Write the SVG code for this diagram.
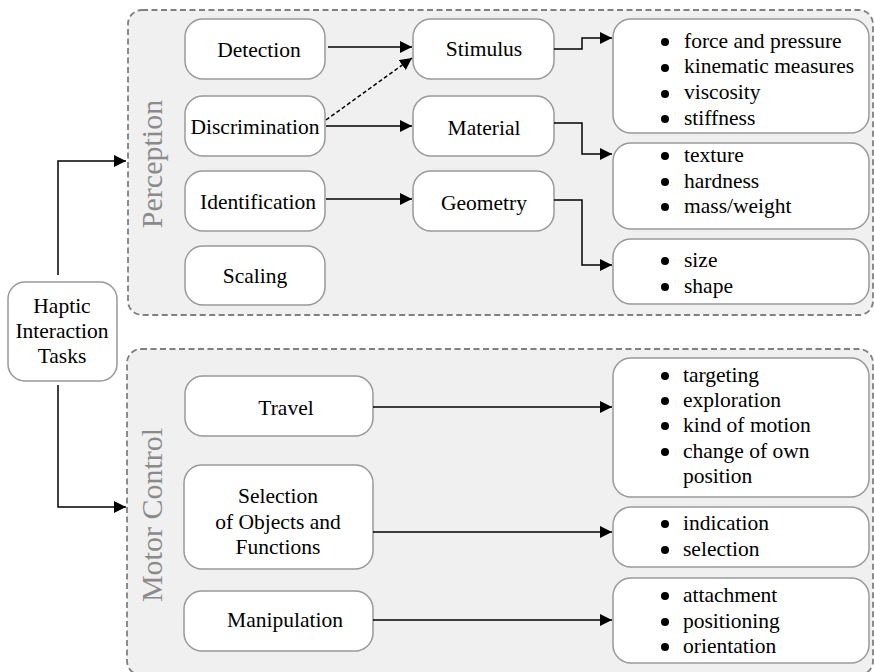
<svg xmlns="http://www.w3.org/2000/svg" width="874" height="672" viewBox="0 0 874 672" font-family="'Liberation Serif', 'Times New Roman', serif" font-size="21.5">
<defs>
<marker id="ah" markerWidth="12" markerHeight="12" refX="12" refY="6" orient="auto" markerUnits="userSpaceOnUse"><path d="M0,0 L12,6 L0,12 Z" fill="#000"/></marker>
<style>
.grp{fill:#f0f0f0;stroke:#808080;stroke-width:1.8;stroke-dasharray:6 3.5}
.nd{fill:#fff;stroke:#999;stroke-width:1.5}
.t{font-family:'Liberation Serif','Times New Roman',serif;font-size:21.5px;fill:#000}
.c{text-anchor:middle}
.lbl{font-family:'Liberation Serif','Times New Roman',serif;font-size:30px;fill:#8a8a8a;text-anchor:middle}
.ln{fill:none;stroke:#000;stroke-width:1.5}
.dash{stroke-dasharray:4 2.5}
</style>
</defs>
<rect x="0" y="0" width="874" height="672" fill="#fff"/>
<g id="perception-group">
<rect class="grp" x="128" y="10" width="745" height="305" rx="14"/>
<text class="lbl" transform="translate(162,164) rotate(-90)">Perception</text>
</g>
<g id="motor-group">
<rect class="grp" x="127" y="349" width="746" height="326" rx="14"/>
<text class="lbl" transform="translate(162,515) rotate(-90)">Motor Control</text>
</g>
<g id="haptic"><rect class="nd" x="8" y="282" width="109" height="99" rx="17"/>
<text class="t c" x="62" y="313">Haptic</text><text class="t c" x="62" y="338">Interaction</text><text class="t c" x="62" y="363">Tasks</text></g>
<g id="detection"><rect class="nd" x="185" y="19" width="140" height="60" rx="18"/><text class="t c" x="259" y="57">Detection</text></g>
<g id="discrimination"><rect class="nd" x="185" y="96" width="140" height="60" rx="18"/><text class="t c" x="255" y="134">Discrimination</text></g>
<g id="identification"><rect class="nd" x="185" y="171" width="140" height="60" rx="18"/><text class="t c" x="258" y="209">Identification</text></g>
<g id="scaling"><rect class="nd" x="185" y="246" width="140" height="59" rx="18"/><text class="t c" x="255" y="283">Scaling</text></g>
<g id="stimulus"><rect class="nd" x="413" y="19" width="141" height="60" rx="18"/><text class="t c" x="484" y="56">Stimulus</text></g>
<g id="material"><rect class="nd" x="413" y="96" width="141" height="60" rx="18"/><text class="t c" x="484" y="135">Material</text></g>
<g id="geometry"><rect class="nd" x="413" y="171" width="141" height="60" rx="18"/><text class="t c" x="484" y="210">Geometry</text></g>
<g id="stimulus-list"><rect class="nd" x="613" y="19" width="256" height="114" rx="18"/>
<circle cx="665" cy="42" r="4"/><circle cx="665" cy="68" r="4"/><circle cx="665" cy="94" r="4"/><circle cx="665" cy="119" r="4"/>
<text class="t" x="684" y="48">force and pressure</text><text class="t" x="684" y="73">kinematic measures</text><text class="t" x="684" y="99">viscosity</text><text class="t" x="684" y="125">stiffness</text></g>
<g id="material-list"><rect class="nd" x="613" y="143" width="256" height="86" rx="18"/>
<circle cx="665" cy="156" r="4"/><circle cx="665" cy="182" r="4"/><circle cx="665" cy="207" r="4"/>
<text class="t" x="684" y="162">texture</text><text class="t" x="684" y="188">hardness</text><text class="t" x="684" y="213">mass/weight</text></g>
<g id="geometry-list"><rect class="nd" x="613" y="239" width="256" height="65" rx="18"/>
<circle cx="665" cy="261" r="4"/><circle cx="665" cy="287" r="4"/>
<text class="t" x="684" y="267">size</text><text class="t" x="684" y="293">shape</text></g>
<g id="travel"><rect class="nd" x="185" y="376" width="188" height="60" rx="18"/><text class="t c" x="286" y="415">Travel</text></g>
<g id="selection"><rect class="nd" x="184" y="465" width="189" height="104" rx="18"/>
<text class="t c" x="278" y="503">Selection</text><text class="t c" x="278" y="529">of Objects and</text><text class="t c" x="278" y="554">Functions</text></g>
<g id="manipulation"><rect class="nd" x="184" y="591" width="189" height="60" rx="18"/><text class="t c" x="285" y="627">Manipulation</text></g>
<g id="travel-list"><rect class="nd" x="613" y="358" width="256" height="139" rx="18"/>
<circle cx="665" cy="376" r="4"/><circle cx="665" cy="401" r="4"/><circle cx="665" cy="426" r="4"/><circle cx="665" cy="452" r="4"/>
<text class="t" x="683" y="382">targeting</text><text class="t" x="683" y="407">exploration</text><text class="t" x="683" y="432">kind of motion</text><text class="t" x="683" y="458">change of own</text><text class="t" x="683" y="483">position</text></g>
<g id="selection-list"><rect class="nd" x="613" y="507" width="256" height="60" rx="18"/>
<circle cx="665" cy="524" r="4"/><circle cx="665" cy="550" r="4"/>
<text class="t" x="683" y="530">indication</text><text class="t" x="683" y="556">selection</text></g>
<g id="manipulation-list"><rect class="nd" x="613" y="578" width="256" height="85" rx="18"/>
<circle cx="665" cy="596" r="4"/><circle cx="665" cy="622" r="4"/><circle cx="665" cy="647" r="4"/>
<text class="t" x="683" y="602">attachment</text><text class="t" x="683" y="628">positioning</text><text class="t" x="683" y="653">orientation</text></g>
<g id="connectors">
<path class="ln" d="M58,275 V161 H126" marker-end="url(#ah)"/>
<path class="ln" d="M58,385 V507 H126" marker-end="url(#ah)"/>
<path class="ln" d="M328,47 H412" marker-end="url(#ah)"/>
<path class="ln dash" d="M326,120 L412,58" marker-end="url(#ah)"/>
<path class="ln" d="M326,126 H412" marker-end="url(#ah)"/>
<path class="ln" d="M326,199 H412" marker-end="url(#ah)"/>
<path class="ln" d="M554,49 H582 V38 H612" marker-end="url(#ah)"/>
<path class="ln" d="M554,123 H582 V154 H612" marker-end="url(#ah)"/>
<path class="ln" d="M554,200 H582 V265 H612" marker-end="url(#ah)"/>
<path class="ln" d="M373,407 H612" marker-end="url(#ah)"/>
<path class="ln" d="M373,532 H612" marker-end="url(#ah)"/>
<path class="ln" d="M373,620 H612" marker-end="url(#ah)"/>
</g>
</svg>
